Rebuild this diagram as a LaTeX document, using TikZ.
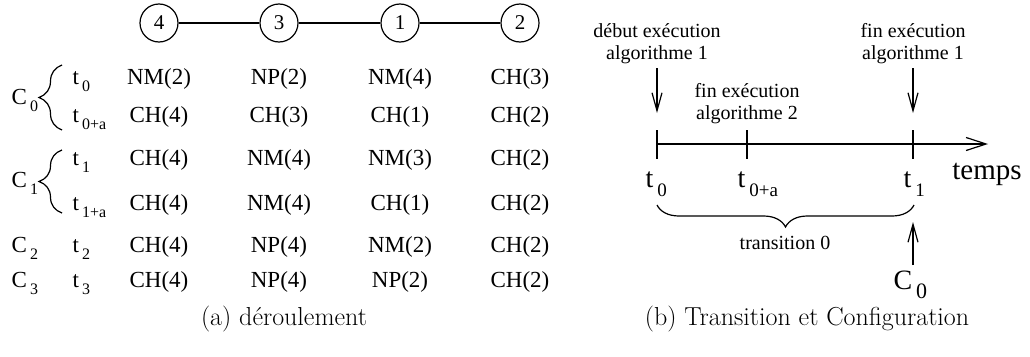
\documentclass[tikz,border=0pt]{standalone}
\usepackage{fontspec}
\newfontfamily\tms{Liberation Serif}
\usetikzlibrary{arrows.meta,decorations.pathreplacing}
% letter followed by a lowered, smaller index
\newcommand\sbs[3]{#1\hspace{0.14em}\raisebox{-0.32em}{\fontsize{#2}{#2}\selectfont #3}}
\begin{document}
\begin{tikzpicture}[x=1pt,y=-1pt,line width=1.2pt,
  cell/.style={font=\tms\fontsize{23}{23}\selectfont,inner sep=0pt,anchor=mid},
  lft/.style={font=\tms\fontsize{23}{23}\selectfont,inner sep=0pt,anchor=mid west},
  proc/.style={circle,draw,minimum size=38pt,inner sep=0pt,font=\tms\fontsize{21}{21}\selectfont},
  note/.style={font=\tms\fontsize{20}{22}\selectfont,align=center,inner sep=0pt},
  big/.style={font=\tms\fontsize{28}{28}\selectfont,inner sep=0pt,anchor=mid west},
  captxt/.style={font=\fontsize{26}{26}\selectfont,inner sep=0pt},
  barb/.style={-{Straight Barb[length=18pt,width=10pt,line width=1.2pt]}},
  lbrace/.style={decorate,decoration={brace,amplitude=23pt}}]
\useasboundingbox (0,0) rectangle (1030,356);

% ---- (a) process chain and execution table ----
\node[proc] (p4) at (159,23) {4};
\node[proc] (p3) at (279,23) {3};
\node[proc] (p1) at (400,23) {1};
\node[proc] (p2) at (520,23) {2};
\draw (p4) -- (p3) (p3) -- (p1) (p1) -- (p2);

\foreach \r/\y/\a/\b/\c/\d in {
  0/82/NM(2)/NP(2)/NM(4)/CH(3),
  1/120/CH(4)/CH(3)/CH(1)/CH(2),
  2/163/CH(4)/NM(4)/NM(3)/CH(2),
  3/208/CH(4)/NM(4)/CH(1)/CH(2),
  4/250/CH(4)/NP(4)/NM(2)/CH(2),
  5/285/CH(4)/NP(4)/NP(2)/CH(2)}{
  \node[cell] (a\r) at (159,\y) {\a};
  \node[cell] (b\r) at (279,\y) {\b};
  \node[cell] (c\r) at (400,\y) {\c};
  \node[cell] (d\r) at (520,\y) {\d};
}

\node[lft] (tr0) at (72,82)  {\sbs{t}{16}{0}};
\node[lft] (tr1) at (72,120) {\sbs{t}{16}{0+a}};
\node[lft] (tr2) at (72,163) {\sbs{t}{16}{1}};
\node[lft] (tr3) at (72,208) {\sbs{t}{16}{1+a}};
\node[lft] (tr4) at (72,250) {\sbs{t}{16}{2}};
\node[lft] (tr5) at (72,285) {\sbs{t}{16}{3}};

\node[lft] (cf0) at (11,102) {\sbs{C}{16}{0}};
\node[lft] (cf1) at (11,185) {\sbs{C}{16}{1}};
\node[lft] (cf2) at (11,250) {\sbs{C}{16}{2}};
\node[lft] (cf3) at (11,285) {\sbs{C}{16}{3}};

\coordinate (b0s) at (62,130); \coordinate (b0e) at (62,65);
\coordinate (b1s) at (62,213); \coordinate (b1e) at (62,150);
\draw[lbrace] (b0s) -- (b0e);
\draw[lbrace] (b1s) -- (b1e);

\node[captxt] (capa) at (284,319) {(a) déroulement};

% ---- (b) time line ----
\coordinate (T0) at (657,144);
\coordinate (Ta) at (747,144);
\coordinate (T1) at (913,144);
\coordinate (Tend) at (988,144);
\draw[-{Straight Barb[length=20pt,width=13pt,line width=1.2pt]}] (T0) -- (Tend);
\foreach \p in {T0,Ta,T1}{
  \draw ([yshift=-14.5pt]\p) -- ([yshift=14.5pt]\p);
}
\node[big,font=\tms\fontsize{29}{29}\selectfont,anchor=mid] (temps) at (987,177) {temps};

\node[big] (lt0) at (645,185) {\sbs{t}{19}{0}};
\node[big] (lta) at (737,185) {\sbs{t}{19}{0+a}};
\node[big] (lt1) at (903,185) {\sbs{t}{19}{1}};

\node[note] (deb1) at (657,44) {début exécution\\algorithme 1};
\node[note] (fin1) at (913,44) {fin exécution\\algorithme 1};
\node[note] (fin2) at (747,104) {fin exécution\\algorithme 2};
\coordinate (d1a) at (657,68); \coordinate (d1b) at (657,113);
\coordinate (f1a) at (913,68); \coordinate (f1b) at (913,113);
\draw[barb] (d1a) -- (d1b);
\draw[barb] (f1a) -- (f1b);

\coordinate (brL) at (657,205); \coordinate (brR) at (914,205);
\draw[decorate,decoration={brace,amplitude=22pt}] (brR) -- (brL);
\node[note] (trans) at (785,243) {transition 0};

\node[big] (conf) at (893,287) {\sbs{C}{22}{0}};
\coordinate (ca) at (913,265); \coordinate (cb) at (913,222);
\draw[barb] (ca) -- (cb);

\node[captxt] (capb) at (807,319) {(b) Transition et Configuration};
\end{tikzpicture}
\end{document}
